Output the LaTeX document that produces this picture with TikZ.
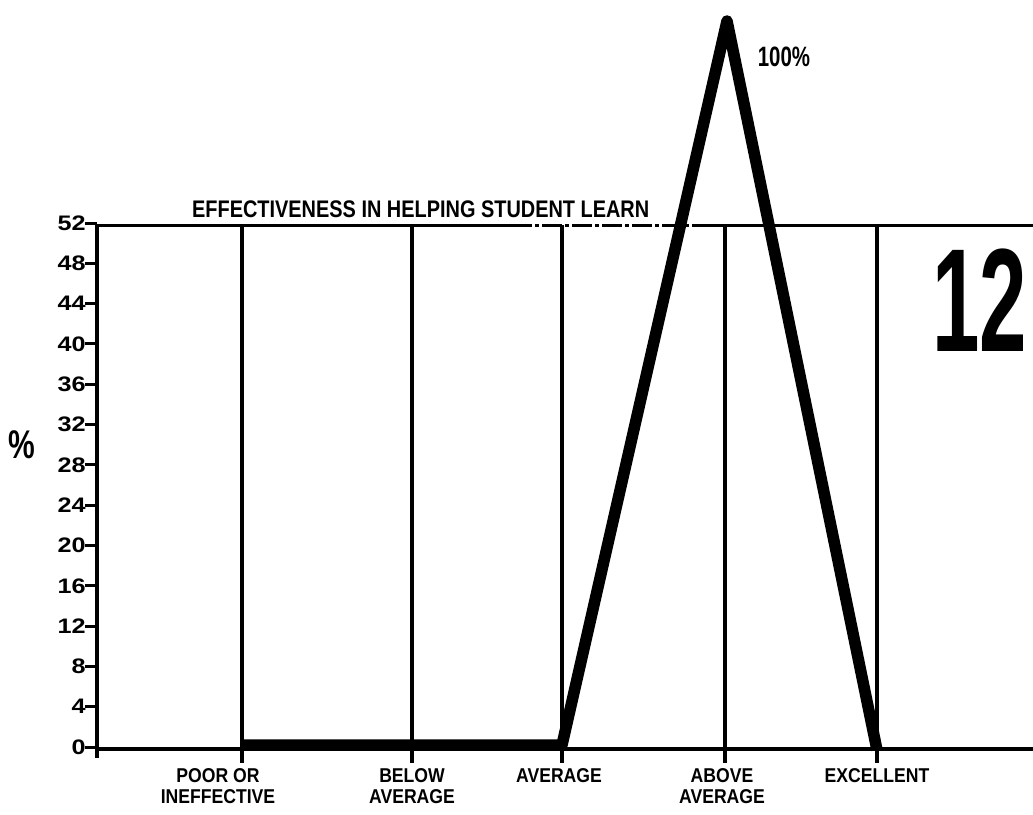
\documentclass[tikz,border=0pt]{standalone}
\usepackage{fontspec}
\setmainfont{Liberation Sans}
\begin{document}
\begin{tikzpicture}[x=1pt,y=-1pt,
  frame/.style={line width=4.5pt},
  gridline/.style={line width=3.5pt},
  topline/.style={line width=3pt},
  dataline/.style={line width=11.5pt,line join=round,line cap=butt},
  ylab/.style={font=\fontsize{21}{21}\selectfont\bfseries,anchor=east,inner sep=0pt,xscale=1.2},
  xlab/.style={font=\fontsize{20}{21}\selectfont\bfseries,align=center,inner sep=0pt,anchor=north,xscale=0.88}]
\useasboundingbox (0,0) rectangle (1033,814);

% frame of the chart
\coordinate (tl) at (97,225);
\coordinate (bl) at (97,758);
\coordinate (ba) at (97,749);
\coordinate (br) at (1033,749);
\coordinate (tdash1) at (512,225);
\coordinate (tdash2) at (705,225);
\coordinate (tr) at (1033,225);
\draw[frame] (tl) -- (bl);
\draw[frame,line width=4pt] (ba) -- (br);
\draw[topline] (tl) -- (tdash1);
\draw[topline,dash pattern=on 20pt off 3pt on 4pt off 3pt] (tdash1) -- (tdash2);
\draw[topline] (tdash2) -- (tr);

% rating columns with their labels
\foreach \x/\n in {242/c1,412/c2,562/c3,725/c4,877/c5}{
  \coordinate (\n t) at (\x,225);
  \coordinate (\n b) at (\x,763);
  \draw[gridline] (\n t) -- (\n b);
}
\node[xlab] (l1) at (218,768) {POOR OR\\INEFFECTIVE};
\node[xlab] (l2) at (412,768) {BELOW\\AVERAGE};
\node[xlab] (l3) at (559,768) {AVERAGE};
\node[xlab] (l4) at (722,768) {ABOVE\\AVERAGE};
\node[xlab] (l5) at (877,768) {EXCELLENT};

% percentage scale
\foreach \k in {0,...,13}{
  \pgfmathsetmacro{\yy}{747-\k*524/13}
  \pgfmathtruncatemacro{\lab}{4*\k}
  \coordinate (t\k a) at (85,\yy);
  \coordinate (t\k b) at (97,\yy);
  \draw[line width=3pt] (t\k a) -- (t\k b);
  \node[ylab] (y\k) at (86,\yy) {\lab};
}
\node[font=\fontsize{40}{40}\selectfont\bfseries,xscale=0.75,inner sep=0pt] (pct) at (22,445) {\%};

% title and plate number
\node[font=\fontsize{24}{24}\selectfont\bfseries,xscale=0.83,inner sep=0pt,anchor=south west] (title) at (192,218) {EFFECTIVENESS IN HELPING STUDENT LEARN};
\node[font=\fontsize{147}{147}\selectfont\bfseries,xscale=0.58,inner sep=0pt] (plate) at (980,300) {12};

% response curve
\coordinate (p1) at (242,745);
\coordinate (p2) at (562,745);
\coordinate (p3) at (727,21);
\coordinate (p4) at (877,750);
\draw[dataline] (p1) -- (p2) -- (p3) -- (p4);
\node[font=\fontsize{28}{28}\selectfont\bfseries,xscale=0.73,inner sep=0pt] (peak) at (784,57) {100\%};
\end{tikzpicture}
\end{document}
